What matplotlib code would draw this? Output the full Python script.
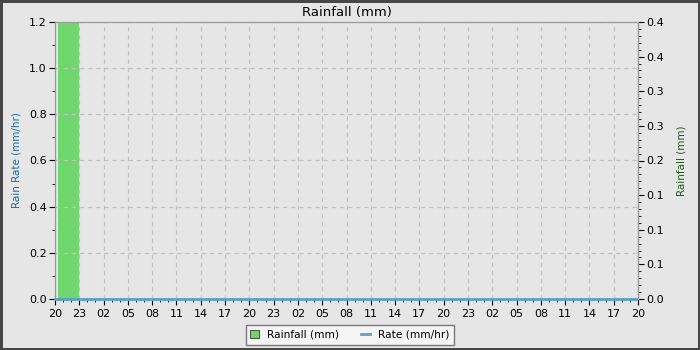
import matplotlib
matplotlib.use("Agg")
import matplotlib.pyplot as plt
from matplotlib.ticker import MultipleLocator, FixedLocator
from matplotlib.patches import Patch
from matplotlib.lines import Line2D

# data (hours from 20:00 on the first day)
x_labels = ['20', '23', '02', '05', '08', '11', '14', '17',
            '20', '23', '02', '05', '08', '11', '14', '17',
            '20', '23', '02', '05', '08', '11', '14', '17', '20']
rain_start = [0.35]
rain_width = [2.65]
rain_mm = [1.0]
rate_hours = [0.0, 12.0, 24.0, 36.0, 48.0, 60.0, 71.7]
rate_mmhr = [0.0, 0.0, 0.0, 0.0, 0.0, 0.0, 0.0]
right_ticks = [0.0, 0.05, 0.1, 0.15, 0.2, 0.25, 0.3, 0.35, 0.4]
right_labels = ['0.0', '0.1', '0.1', '0.1', '0.2', '0.3', '0.3', '0.4', '0.4']

bg = '#e6e6e6'
fig = plt.figure(figsize=(7, 3.5), dpi=100, facecolor=bg,
                 edgecolor='#474747', linewidth=2.5)
ax = fig.add_axes([55 / 700, 1 - 299 / 350, 583 / 700, 277 / 350])
ax.set_facecolor(bg)
ax2 = ax.twinx()

# rate on left axis
ax.plot(rate_hours, rate_mmhr, color='#58a2c9', lw=2, zorder=3,
        label='Rate (mm/hr)', clip_on=False)
ax.set_xlim(0, 72)
ax.set_ylim(0, 1.2)
ax.xaxis.set_major_locator(FixedLocator(range(0, 73, 3)))
ax.set_xticklabels(x_labels)
ax.xaxis.set_minor_locator(MultipleLocator(1))
ax.yaxis.set_major_locator(MultipleLocator(0.2))
ax.yaxis.set_minor_locator(MultipleLocator(0.1))
ax.grid(True, which='major', color='#c2c2c2', ls=(0, (3.5, 3)), lw=0.9)
ax.set_axisbelow(True)

# rainfall on right axis
ax2.bar(rain_start, rain_mm, width=rain_width, align='edge',
        color='#70d66e', edgecolor='none', label='Rainfall (mm)', zorder=2)
ax2.set_ylim(0, 0.4)
ax2.set_yticks(right_ticks)
ax2.set_yticklabels(right_labels)
ax2.yaxis.set_minor_locator(MultipleLocator(0.01))
ax.set_zorder(2)
ax.patch.set_visible(False)
ax2.set_zorder(1)
ax2.set_facecolor(bg)

for a in (ax, ax2):
    for s in a.spines.values():
        s.set_color('#999999')
    a.tick_params(labelsize=8, length=4, color='black', pad=2)
    a.tick_params(which='minor', length=2.5, color='black')
ax.tick_params(axis='x', pad=3.5)
ax2.spines['right'].set_color('black')

ax.set_ylabel('Rain Rate (mm/hr)', color='#1f6e9c', fontsize=7.5, labelpad=5)
ax2.set_ylabel('Rainfall (mm)', color='#1a5e1a', fontsize=7.5, labelpad=9)
ax.set_title('Rainfall (mm)', fontsize=9.5, pad=4)

labels = ['Rainfall (mm)', 'Rate (mm/hr)']
handles = [Patch(facecolor='#70d66e', edgecolor='#555555', lw=0.8),
           Line2D([0], [0], color='#58a2c9', lw=2)]
leg = fig.legend(handles, labels, loc='lower center', ncol=2,
                 bbox_to_anchor=(0.5, 0.0), fontsize=7.6, frameon=True,
                 fancybox=False, handlelength=0.8, handleheight=0.8,
                 columnspacing=2.1, borderpad=0.45)
leg.get_frame().set_facecolor('#f5f5f5')
leg.get_frame().set_edgecolor('#777777')
leg.get_frame().set_alpha(1)

fig.savefig('out.png', dpi=100, facecolor=bg, edgecolor='#474747')
